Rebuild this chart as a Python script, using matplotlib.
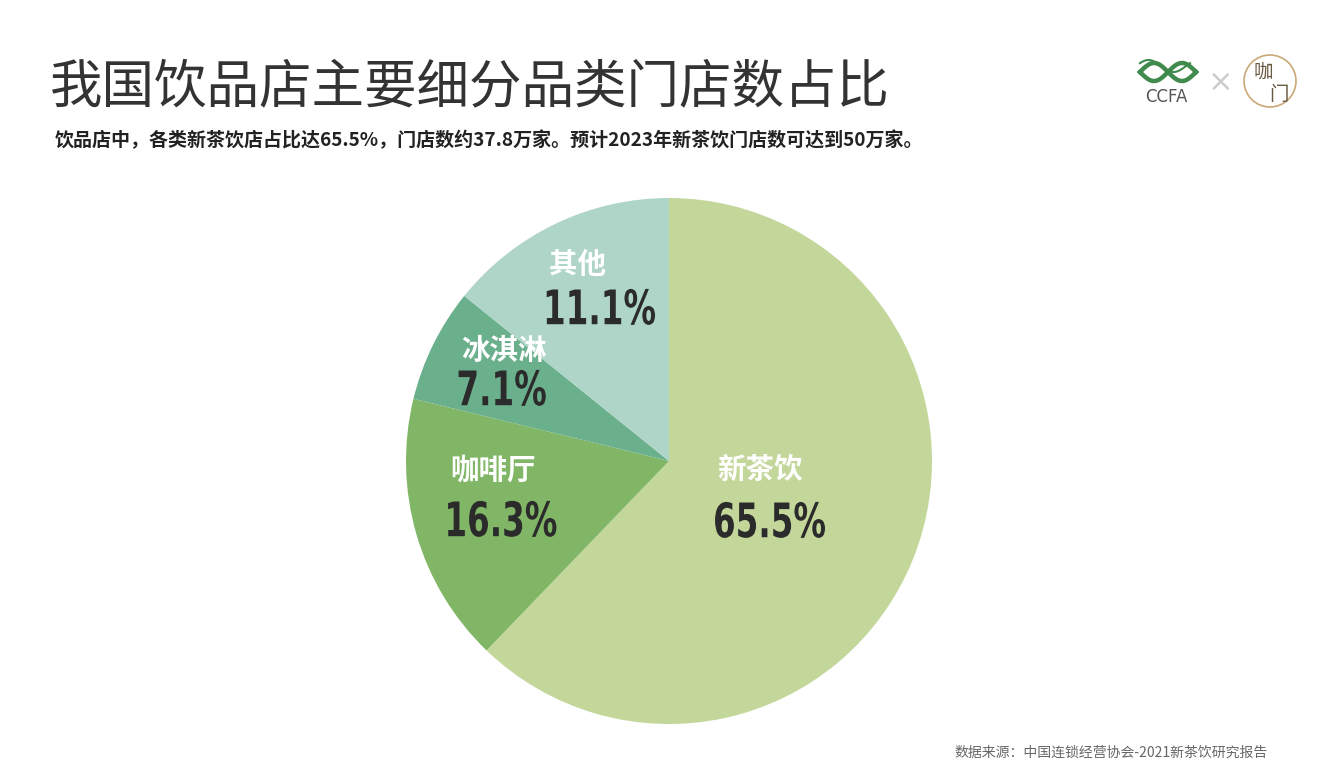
import matplotlib
matplotlib.use("Agg")
import matplotlib.pyplot as plt
from matplotlib.font_manager import FontProperties
from matplotlib.patches import Circle, PathPatch
from matplotlib.textpath import TextPath
from matplotlib.transforms import Affine2D
import numpy as np

# ---- data ----
categories = ["新茶饮", "咖啡厅", "冰淇淋", "其他"]
pct_labels = ["65.5%", "16.3%", "7.1%", "11.1%"]
# slice sizes as drawn in the reference picture (measured angles, %)
slice_shares = [62.2, 16.6, 7.0, 14.2]
colors = ["#c4d79b", "#80b665", "#6bb08d", "#aed5c8"]

title = "我国饮品店主要细分品类门店数占比"
subtitle = "饮品店中，各类新茶饮店占比达65.5%，门店数约37.8万家。预计2023年新茶饮门店数可达到50万家。"
source = "数据来源：中国连锁经营协会-2021新茶饮研究报告"

# label anchors in pie-radius units: (left x, name y, pct y)
label_pos = [(0.175, -0.035, -0.224), (-0.84, -0.035, -0.22),
             (-0.80, 0.42, 0.278), (-0.465, 0.745, 0.586)]

CJK = ["Noto Sans CJK SC", "DejaVu Sans"]
plt.rcParams["font.family"] = CJK

W, H = 1328, 782
DPI = 100
fig = plt.figure(figsize=(W / DPI, H / DPI), dpi=DPI)
fig.patch.set_facecolor("white")

# pie axes
cx, cy, r = 669, 461, 263
ax = fig.add_axes([(cx - r) / W, 1 - (cy + r) / H, 2 * r / W, 2 * r / H])
ax.pie(slice_shares, colors=colors, startangle=90, counterclock=False,
       radius=1, wedgeprops=dict(linewidth=0))
ax.set_xlim(-1, 1)
ax.set_ylim(-1, 1)
ax.set_aspect("equal")
ax.axis("off")

# condensed bold numbers via scaled text paths
num_prop = FontProperties(family="DejaVu Sans", weight="bold")
ref_tp = TextPath((0, 0), "65.5%", size=100, prop=num_prop)
ref_bb = ref_tp.get_extents()
sy = 36.0 / ref_bb.height
sx = 110.0 / ref_bb.width

fig.canvas.draw()
for cat, pct, (x, yn, yp) in zip(categories, pct_labels, label_pos):
    ax.text(x + 0.01, yn, cat, color="white", fontsize=20.5, fontweight="bold",
            ha="left", va="center", family=CJK)
    tp = TextPath((0, 0), pct, size=100, prop=num_prop)
    bb = tp.get_extents()
    px, py = ax.transData.transform((x, yp))
    tr = (Affine2D().translate(-bb.x0, -(bb.y0 + bb.y1) / 2)
          .scale(sx, sy).translate(px, py))
    patch = PathPatch(tr.transform_path(tp), facecolor="#2b2b2b",
                      edgecolor="none", transform=None)
    fig.patches.append(patch)

# titles
fig.text(50 / W, 1 - 88 / H, title, fontsize=37.8, color="#333333",
         ha="left", va="center")
fig.text(55 / W, 1 - 140 / H, subtitle, fontsize=13.7, color="#222222",
         fontweight="bold", ha="left", va="center")
fig.text(1268 / W, 1 - 753 / H, source, fontsize=10, color="#666666",
         ha="right", va="center")

# logos
lax = fig.add_axes([1120 / W, 1 - 120 / H, 200 / W, 80 / H])
lax.set_xlim(1120, 1320)
lax.set_ylim(120, 40)
lax.axis("off")
t = np.linspace(0, 1, 100)
xs = 1140 + 56 * t
lax.plot(xs, 72 - 9 * np.sin(2 * np.pi * t), color="#3f8a4c", lw=3.2)
lax.plot(xs, 72 + 9 * np.sin(2 * np.pi * t), color="#3f8a4c", lw=3.2)
lax.plot(1140 + 50 * t, 66 - 6 * np.sin(2 * np.pi * t + 0.5), color="#3f8a4c", lw=1.5)
lax.text(1166, 97, "CCFA", fontsize=12, color="#555555", ha="center",
         va="center", family="DejaVu Sans")
lax.text(1221, 82, "×", fontsize=22, color="#cccccc", ha="center", va="center",
         family="DejaVu Sans")
lax.add_patch(Circle((1270, 81), 26, fill=False, ec="#c9a877", lw=1.2))
lax.text(1263, 72, "咖", fontsize=14, color="#6b5a43", ha="center", va="center")
lax.text(1279, 94, "门", fontsize=14, color="#6b5a43", ha="center", va="center")

fig.savefig("out.png", dpi=DPI, facecolor="white")
